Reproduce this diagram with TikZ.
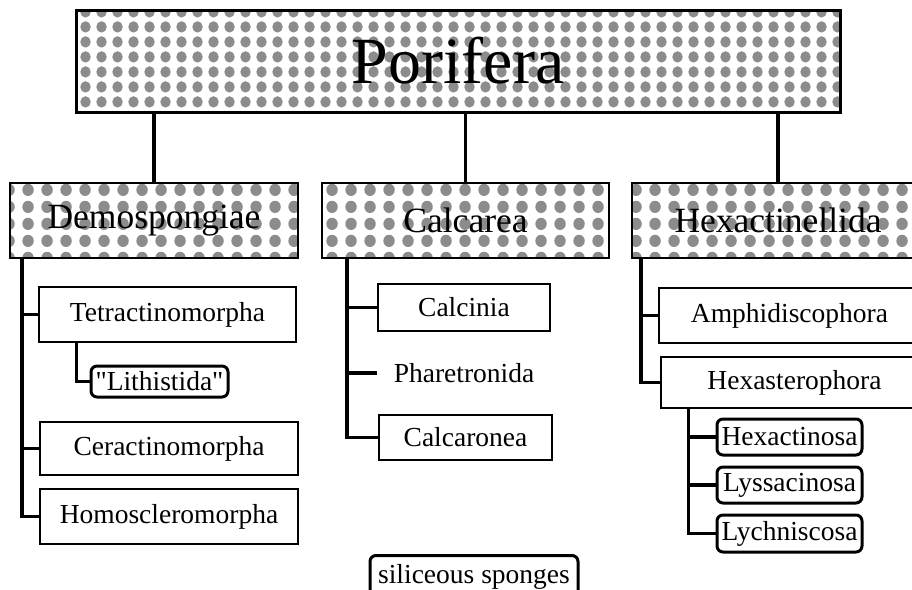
\documentclass[tikz,border=0pt]{standalone}
\usepackage{fontspec}
\setmainfont{Liberation Serif}
\usetikzlibrary{patterns.meta}
\tikzdeclarepattern{
  name=blobs,
  type=uncolored,
  bounding box={(0pt,0pt) and (19pt,17pt)},
  tile size={(19pt,17pt)},
  code={\fill (9.5pt,8.5pt) ellipse [x radius=6pt, y radius=6.4pt];}
}
\tikzdeclarepattern{
  name=smallblobs,
  type=uncolored,
  bounding box={(0pt,0pt) and (15.5pt,15pt)},
  tile size={(15.5pt,15pt)},
  code={\fill (7.75pt,7.5pt) ellipse [x radius=5.4pt, y radius=6pt];}
}
\tikzset{
  graybox/.style={draw=black, line width=2.4pt, preaction={fill=white},
    pattern=blobs, pattern color=gray!90, inner sep=0pt,
    font=\fontsize{35.5}{40}\selectfont},
  plainbox/.style={draw=black, line width=1.6pt, fill=white, inner sep=0pt,
    font=\fontsize{27.5}{31}\selectfont},
  roundbox/.style={draw=black, line width=3pt, rounded corners=6pt, fill=white,
    inner sep=0pt, font=\fontsize{27.5}{31}\selectfont},
  plaintext/.style={inner ysep=0pt, inner xsep=18pt,
    font=\fontsize{27.5}{31}\selectfont},
  link/.style={line width=3.4pt, line cap=rect}
}
\begin{document}
\begin{tikzpicture}[x=1pt, y=-1pt]
\useasboundingbox (0,0) rectangle (912,589);
% top level
\node[graybox, line width=3pt, pattern=smallblobs, minimum width=764pt, minimum height=102pt,
  font=\fontsize{66}{70}\selectfont] (porifera) at (458,61) {Porifera};
% classes
\node[graybox, minimum width=288pt, minimum height=75pt] (demo) at (154,220.5) {Demospongiae};
\node[graybox, minimum width=287pt, minimum height=75pt] (calc) at (465.5,220.5) {Calcarea};
\node[graybox, minimum width=292pt, minimum height=75pt] (hexa) at (778,220.5) {Hexactinellida};
% Demospongiae
\node[plainbox, minimum width=257pt, minimum height=55pt] (tetra) at (167.5,314.5) {Tetractinomorpha};
\node[roundbox, minimum width=137pt, minimum height=31pt] (lith) at (159.5,381.5) {\textquotedbl Lithistida\textquotedbl};
\node[plainbox, minimum width=258pt, minimum height=53pt] (cerac) at (169,448.5) {Ceractinomorpha};
\node[plainbox, minimum width=258pt, minimum height=55pt] (homo) at (169,516.5) {Homoscleromorpha};
% Calcarea
\node[plainbox, minimum width=172pt, minimum height=47pt] (calcinia) at (464,307.5) {Calcinia};
\node[plaintext] (phar) at (464,373) {Pharetronida};
\node[plainbox, minimum width=173pt, minimum height=45pt] (calcaronea) at (465.5,437.5) {Calcaronea};
% Hexactinellida
\node[plainbox, minimum width=261pt, minimum height=55pt] (amphi) at (789.5,315.5) {Amphidiscophora};
\node[plainbox, minimum width=267pt, minimum height=51pt] (hexast) at (794.5,382.5) {Hexasterophora};
\node[roundbox, minimum width=145pt, minimum height=36pt] (hexact) at (789.5,437) {Hexactinosa};
\node[roundbox, minimum width=145pt, minimum height=36pt] (lyss) at (789.5,485) {Lyssacinosa};
\node[roundbox, minimum width=145pt, minimum height=37pt] (lych) at (789.5,533.5) {Lychniscosa};
% legend
\node[roundbox, minimum width=208pt, minimum height=43pt] (silic) at (474,577) {siliceous sponges};
% connectors from Porifera
\draw[link] (demo.north) -- (demo.north |- porifera.south);
\draw[link] (calc.north) -- (calc.north |- porifera.south);
\draw[link] (hexa.north) -- (hexa.north |- porifera.south);
% trunks
\coordinate (dtrunk) at ([xshift=13pt]demo.south west);
\draw[link] (dtrunk) |- (tetra.west);
\draw[link] (dtrunk) |- (cerac.west);
\draw[link] (dtrunk) |- (homo.west);
\coordinate (ttrunk) at ([xshift=38pt]tetra.south west);
\draw[link] (ttrunk) |- (lith.west);
\coordinate (ctrunk) at ([xshift=26pt]calc.south west);
\draw[link] (ctrunk) |- (calcinia.west);
\draw[link] (ctrunk) |- (phar.west);
\draw[link] (ctrunk) |- (calcaronea.west);
\coordinate (htrunk) at ([xshift=10pt]hexa.south west);
\draw[link] (htrunk) |- (amphi.west);
\draw[link] (htrunk) |- (hexast.west);
\coordinate (xtrunk) at ([xshift=28pt]hexast.south west);
\draw[link] (xtrunk) |- (hexact.west);
\draw[link] (xtrunk) |- (lyss.west);
\draw[link] (xtrunk) |- (lych.west);
\end{tikzpicture}
\end{document}
